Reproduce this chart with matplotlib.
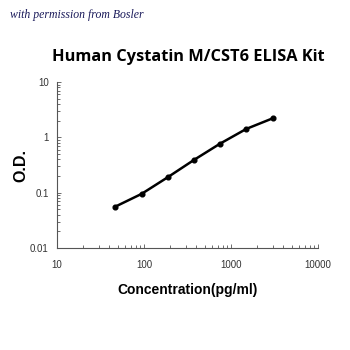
import matplotlib
matplotlib.use("Agg")
import matplotlib.pyplot as plt
from matplotlib.ticker import LogLocator, NullFormatter

conc = [46.875, 93.75, 187.5, 375, 750, 1500, 3000]
od = [0.056, 0.095, 0.19, 0.39, 0.77, 1.42, 2.2]
xticks = [10, 100, 1000, 10000]
xticklabels = ["10", "100", "1000", "10000"]
yticks = [0.01, 0.1, 1, 10]
yticklabels = ["0.01", "0.1", "1", "10"]

fig = plt.figure(figsize=(3.5, 3.5), dpi=100)
ax = fig.add_axes([57/350, 1-248/350, (318-57)/350, (248-82)/350])
ax.set_xscale("log")
ax.set_yscale("log")
ax.set_xlim(10, 10000)
ax.set_ylim(0.01, 10)

ax.plot(conc, od, color="black", lw=1.8, solid_joinstyle="round",
        marker="o", ms=3.4, mfc="black", mec="black")

for s in ["top", "right"]:
    ax.spines[s].set_visible(False)
for s in ["left", "bottom"]:
    ax.spines[s].set_color("#555555")
    ax.spines[s].set_linewidth(0.8)

ax.set_xticks(xticks)
ax.set_xticklabels(xticklabels)
ax.set_yticks(yticks)
ax.set_yticklabels(yticklabels)
ax.xaxis.set_minor_locator(LogLocator(base=10, subs=range(2, 10)))
ax.yaxis.set_minor_locator(LogLocator(base=10, subs=range(2, 10)))
ax.xaxis.set_minor_formatter(NullFormatter())
ax.yaxis.set_minor_formatter(NullFormatter())
ax.tick_params(axis="both", which="both", direction="in", color="#555555",
               width=0.6, labelsize=7, labelcolor="#333333")
ax.tick_params(axis="both", which="major", length=3, pad=9)
ax.tick_params(axis="both", which="minor", length=2)
ax.tick_params(axis="y", which="major", pad=6)
for lab in ax.get_xticklabels() + ax.get_yticklabels():
    lab.set_family("Liberation Sans")

ax.set_xlabel("Concentration(pg/ml)", fontsize=10, fontweight="bold",
              family="Liberation Sans", labelpad=9)
ax.set_ylabel("O.D.", fontsize=11.5, fontweight="bold",
              family="Liberation Sans", labelpad=1)

fig.text(188/350, 1-57/350, "Human Cystatin M/CST6 ELISA Kit", ha="center",
         va="center", fontsize=11.8, fontweight="bold", family="Open Sans")
fig.text(10/350, 1-15/350, "with permission from Bosler", ha="left",
         va="center", fontsize=8.5, style="italic", family="Liberation Serif",
         color="#1a1a5a")

fig.savefig("out.png", dpi=100)
